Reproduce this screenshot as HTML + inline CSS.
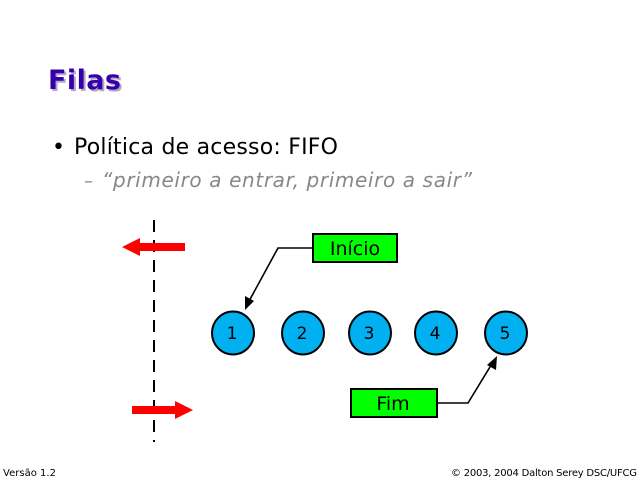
<!DOCTYPE html>
<html><head><meta charset="utf-8"><style>
body{margin:0;width:640px;height:480px;background:#fff;overflow:hidden;font-family:"DejaVu Sans","Liberation Sans",sans-serif;}
</style></head><body>
<svg width="640" height="480" xmlns="http://www.w3.org/2000/svg" style="position:absolute;left:0;top:0">
<text x="50" y="91" font-family="DejaVu Sans,sans-serif" font-weight="bold" font-size="27" fill="#b0a8c8" textLength="73">Filas</text>
<text x="48" y="89" font-family="DejaVu Sans,sans-serif" font-weight="bold" font-size="27" fill="#3300aa" textLength="73">Filas</text>
<text x="52" y="154" font-size="22" fill="#000">•</text>
<text x="74" y="154" font-size="22" fill="#000" textLength="264">Política de acesso: FIFO</text>
<text x="84" y="187" font-size="18" fill="#888">–</text>
<text x="102" y="187" font-size="20" font-style="italic" fill="#888" textLength="370">“primeiro a entrar, primeiro a sair”</text>
<line x1="154" y1="220" x2="154" y2="442" stroke="#000" stroke-width="2" stroke-dasharray="12,8"/>
<polygon points="122,247 140,238 140,243 185,243 185,251 140,251 140,256" fill="#f00"/>
<polygon points="193,410 175,401 175,406 132,406 132,414 175,414 175,419" fill="#f00"/>
<g fill="#00b0f0" stroke="#000" stroke-width="2">
<ellipse cx="233" cy="333" rx="21" ry="21.5"/>
<ellipse cx="303" cy="333" rx="21" ry="21.5"/>
<ellipse cx="370" cy="333" rx="21" ry="21.5"/>
<ellipse cx="436" cy="333" rx="21" ry="21.5"/>
<ellipse cx="506" cy="333" rx="21" ry="21.5"/>
</g>
<g font-size="17" fill="#000" text-anchor="middle">
<text x="232" y="339">1</text><text x="302" y="339">2</text><text x="369" y="339">3</text><text x="435" y="339">4</text><text x="505" y="339">5</text>
</g>
<rect x="313" y="234" width="84" height="28" fill="#0f0" stroke="#000" stroke-width="2"/>
<text x="355" y="255" font-size="19" text-anchor="middle">Início</text>
<polyline points="313,248 278,248 248,303" fill="none" stroke="#000" stroke-width="1.6"/>
<polygon points="245,310 245,296 254,301" fill="#000"/>
<rect x="351" y="389" width="86" height="28" fill="#0f0" stroke="#000" stroke-width="2"/>
<text x="393" y="410" font-size="19" text-anchor="middle">Fim</text>
<polyline points="437,403 468,403 493,362" fill="none" stroke="#000" stroke-width="1.6"/>
<polygon points="497,356 496,370 487,365" fill="#000"/>
<text x="3" y="476" font-size="10" fill="#000" textLength="53">Versão 1.2</text>
<text x="451" y="476" font-size="10" fill="#000" textLength="186">© 2003, 2004 Dalton Serey DSC/UFCG</text>
</svg>
</body></html>
